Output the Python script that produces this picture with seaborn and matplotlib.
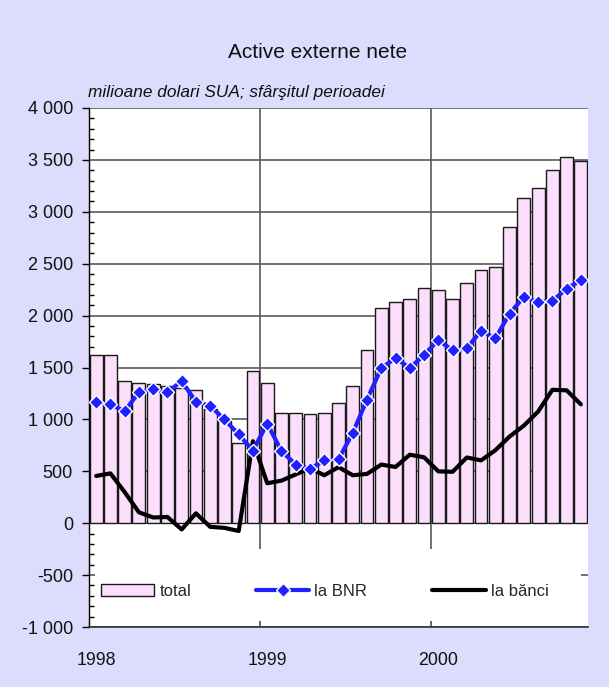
import numpy as np
import pandas as pd
import matplotlib
matplotlib.use("Agg")
import matplotlib.pyplot as plt
import seaborn as sns
from matplotlib.lines import Line2D
from matplotlib.patches import Patch, Rectangle
from matplotlib.ticker import FuncFormatter, MultipleLocator

# lunar, ian 1998 - nov 2000, milioane USD, sfarsitul perioadei
months = pd.period_range("1998-01", periods=35, freq="M").strftime("%Y-%m")
total = [1620, 1620, 1370, 1355, 1340, 1320, 1300, 1280, 1100, 980, 770, 1465,
         1355, 1065, 1065, 1050, 1065, 1160, 1325, 1665, 2070, 2130, 2160, 2265,
         2250, 2160, 2315, 2435, 2470, 2855, 3130, 3225, 3405, 3530, 3490]
bnr = [1170, 1145, 1080, 1260, 1295, 1260, 1370, 1170, 1130, 1000, 855, 700,
       960, 695, 565, 525, 605, 615, 870, 1190, 1495, 1590, 1495, 1620,
       1765, 1665, 1685, 1855, 1780, 2020, 2180, 2130, 2140, 2260, 2340]
banci = [455, 480, 300, 105, 55, 60, -60, 95, -35, -45, -75, 790,
         385, 410, 470, 530, 462, 540, 462, 475, 565, 542, 660, 635,
         500, 495, 633, 605, 703, 835, 940, 1075, 1285, 1280, 1145]
year_labels = ["1998", "1999", "2000"]

df = pd.DataFrame({"pos": np.arange(len(months)), "luna": months,
                   "total": total, "la BNR": bnr, "la bănci": banci})

sns.set_style("white")
plt.rcParams["font.family"] = ["Liberation Sans", "DejaVu Sans"]

bg = "#dddcfd"
pink = "#fbdefb"
blue = "#2121ff"
grid_c = "#5a5a5a"

fig = plt.figure(figsize=(6.09, 6.87), dpi=100, facecolor=bg)
ax = fig.add_axes([89 / 609, 1 - 627 / 687, 499 / 609, 519 / 687])
ax.set_facecolor("white")

sns.barplot(data=df, x="pos", y="total", ax=ax, color=pink, saturation=1,
            width=0.9, edgecolor="#1a1a1a", linewidth=1, zorder=2)
sns.lineplot(data=df, x="pos", y="la bănci", ax=ax, color="black",
             linewidth=3, zorder=3)
sns.lineplot(data=df, x="pos", y="la BNR", ax=ax, color=blue, linewidth=3,
             marker="D", markersize=7, markeredgecolor="white",
             markeredgewidth=1, zorder=4)

ax.set_xlim(-0.5, len(months) - 0.5)
ax.set_ylim(-1000, 4000)
ax.set_xlabel("")
ax.set_ylabel("")

# axa x: etichete pe ianuarie, linii de separare intre ani
ax.set_xticks([0, 12, 24])
ax.set_xticklabels(year_labels)
ax.set_xticks([11.5, 23.5], minor=True)
ax.tick_params(axis="x", which="major", length=0, pad=18, labelsize=12.8,
               colors="#111111")
ax.tick_params(axis="x", which="minor", direction="in", length=4,
               color=grid_c, bottom=True)

# axa y
ax.yaxis.set_major_locator(MultipleLocator(500))
ax.yaxis.set_minor_locator(MultipleLocator(100))
ax.yaxis.set_major_formatter(
    FuncFormatter(lambda v, p: "{:,.0f}".format(v).replace(",", " ")))
ax.tick_params(axis="y", which="major", direction="out", length=5, width=1,
               pad=6.5, labelsize=13, left=True, color="black",
               labelcolor="#111111")
ax.tick_params(axis="y", which="minor", direction="in", length=3.6,
               width=1, left=True, color="black")

ax.set_axisbelow(True)
ax.grid(axis="y", which="major", color=grid_c, linewidth=1.2)
ax.grid(axis="x", which="minor", color=grid_c, linewidth=1.2)
ax.grid(axis="x", which="major", visible=False)

sns.despine(ax=ax, top=True, right=True)
ax.spines["left"].set_color("black")
ax.spines["bottom"].set_color("#333333")
ax.spines["left"].set_linewidth(1)
ax.spines["bottom"].set_linewidth(1.2)

# fundal alb pentru legenda
ax.add_patch(Rectangle(((95 - 89) / 499, 6 / 519), (581 - 95) / 499, 72 / 519,
                       transform=ax.transAxes, facecolor="white",
                       edgecolor="none", zorder=1))

handles = [
    Patch(facecolor=pink, edgecolor="#1a1a1a", linewidth=1),
    Line2D([], [], color=blue, linewidth=3, marker="D", markersize=7,
           markeredgecolor="white", markeredgewidth=1),
    Line2D([], [], color="black", linewidth=3),
]
ax.legend(handles, ["total", "la BNR", "la bănci"], loc="center left",
          bbox_to_anchor=((101 - 89) / 499, (627 - 591) / 519), ncol=3,
          frameon=False, fontsize=12, handlelength=3.2, handletextpad=0.3,
          columnspacing=3.9, borderpad=0, borderaxespad=0, handleheight=0.7)

fig.text(228 / 609, 1 - 58 / 687, "Active externe nete", fontsize=15,
         ha="left", va="baseline", color="#111111")
fig.text(88 / 609, 1 - 96.5 / 687, "milioane dolari SUA; sfârşitul perioadei",
         fontsize=12.4, style="italic", ha="left", va="baseline",
         color="#111111")

fig.savefig("out.png", dpi=100, facecolor=bg)
